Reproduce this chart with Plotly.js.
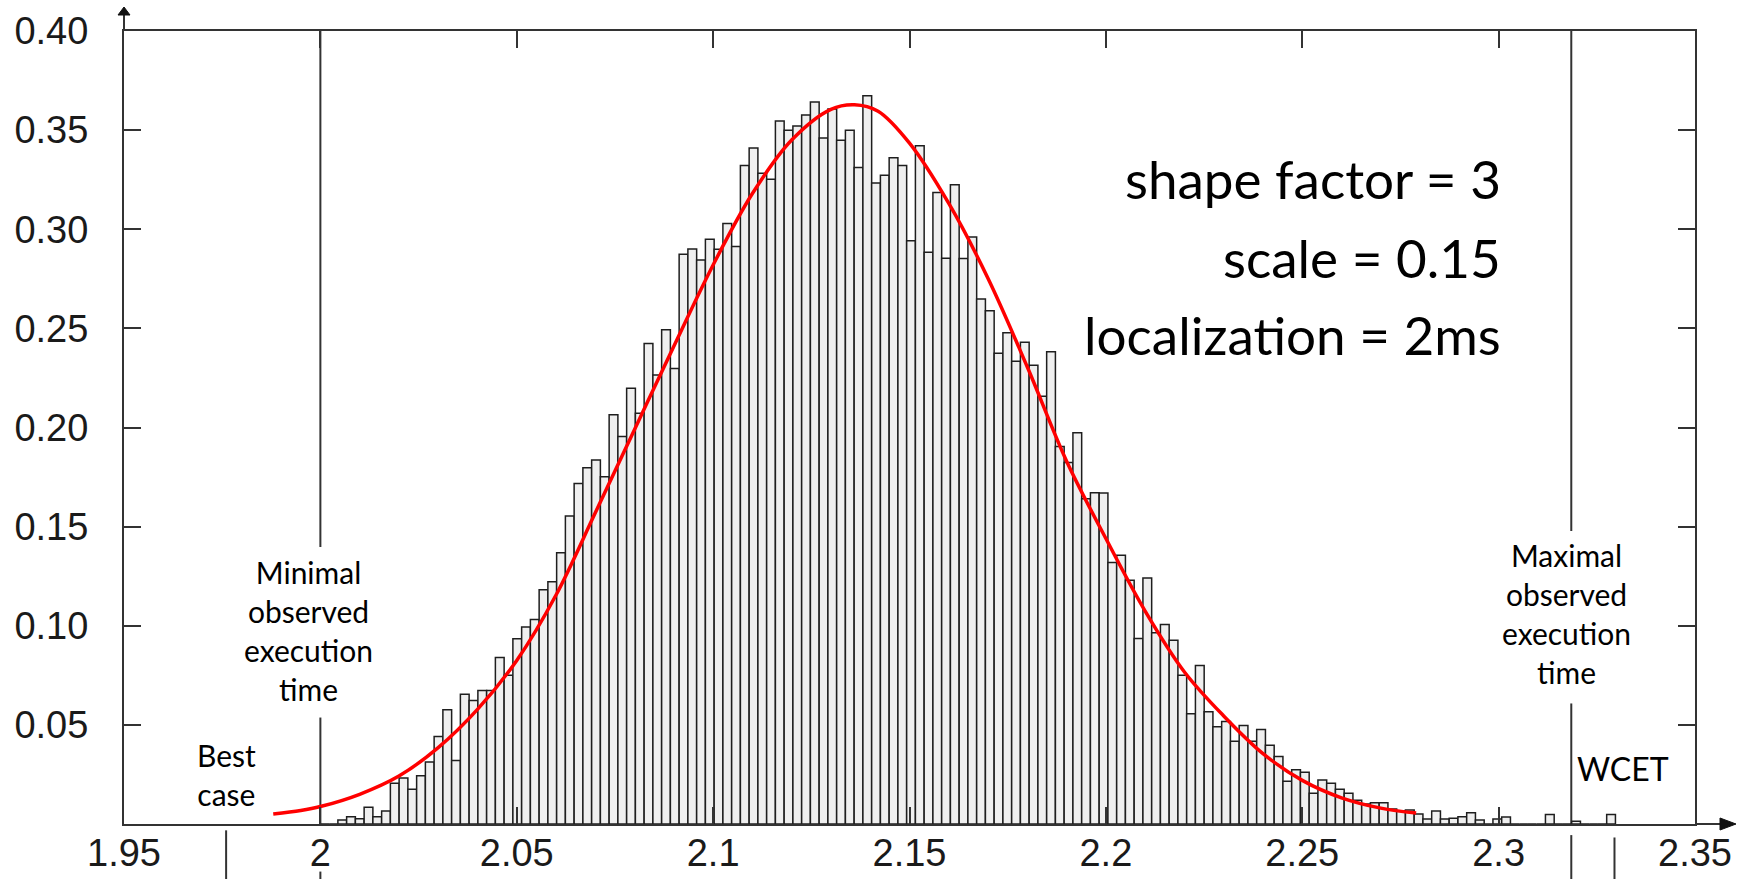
<!DOCTYPE html>
<html>
<head>
<meta charset="utf-8">
<script src="https://cdn.plot.ly/plotly-3.0.1.min.js"></script>
<style>
  html, body { margin: 0; padding: 0; background: #fff; }
  #chart { width: 1748px; height: 879px; }
</style>
</head>
<body>
<div id="chart"></div>
<script>
// Execution-time histogram (bins start at 2.0 ms, equal width)
const binStart = 2.0;
const binWidth = 0.002228;
const density = [
  0, 0, 0.0020, 0.0037, 0.0027, 0.0085, 0.0037, 0.0066, 0.0206, 0.0232,
  0.0175, 0.0243, 0.0313, 0.0441, 0.0576, 0.0320, 0.0654, 0.0623, 0.0674, 0.0674,
  0.0840, 0.0750, 0.0935, 0.0994, 0.1032, 0.1181, 0.1222, 0.1368, 0.1553, 0.1718,
  0.1797, 0.1836, 0.1751, 0.2064, 0.1954, 0.2198, 0.2072, 0.2424, 0.2265, 0.2493,
  0.2297, 0.2874, 0.2900, 0.2845, 0.2950, 0.2899, 0.3029, 0.2913, 0.3322, 0.3410,
  0.3282, 0.3252, 0.3546, 0.3499, 0.3521, 0.3576, 0.3642, 0.3460, 0.3607, 0.3449,
  0.3499, 0.3311, 0.3674, 0.3233, 0.3273, 0.3361, 0.3322, 0.2942, 0.3421, 0.2884,
  0.3186, 0.2854, 0.3225, 0.2853, 0.2961, 0.2648, 0.2589, 0.2375, 0.2478, 0.2334,
  0.2430, 0.2314, 0.2158, 0.2382, 0.1904, 0.1824, 0.1974, 0.1641, 0.1671, 0.1670,
  0.1319, 0.1355, 0.1230, 0.0936, 0.1241, 0.0965, 0.1006, 0.0927, 0.0750, 0.0556,
  0.0799, 0.0566, 0.0490, 0.0517, 0.0418, 0.0497, 0.0418, 0.0477, 0.0397, 0.0341,
  0.0216, 0.0274, 0.0261, 0.0155, 0.0222, 0.0206, 0.0175, 0.0155, 0.0120, 0.0101,
  0.0107, 0.0107, 0.0076, 0.0067, 0.0071, 0.0050, 0.0025, 0.0065, 0.0025, 0.0029,
  0.0037, 0.0057, 0.0020, 0, 0.0025, 0.0035, 0, 0, 0, 0,
  0.0048, 0, 0, 0.0014, 0, 0, 0, 0.0048
];

// Fitted distribution curve
const fitX = [1.988, 1.995, 2.000, 2.010, 2.020, 2.030, 2.040, 2.050, 2.060, 2.070,
              2.080, 2.090, 2.100, 2.110, 2.120, 2.130, 2.136, 2.142, 2.150, 2.160,
              2.170, 2.180, 2.190, 2.200, 2.210, 2.220, 2.230, 2.240, 2.250, 2.260,
              2.270, 2.279];
const fitY = [0.0050, 0.0068, 0.0088, 0.0150, 0.0242, 0.0385, 0.0578, 0.0825, 0.1155, 0.1570,
              0.1990, 0.2410, 0.2820, 0.3180, 0.3450, 0.3605, 0.3628, 0.3595, 0.3434, 0.3130,
              0.2752, 0.2305, 0.1830, 0.1440, 0.1074, 0.0767, 0.0545, 0.0355, 0.0220, 0.0132,
              0.0080, 0.0055];

// Axis ticks
const xTickVals = [1.95, 2, 2.05, 2.1, 2.15, 2.2, 2.25, 2.3, 2.35];
const xTickText = ['1.95', '2', '2.05', '2.1', '2.15', '2.2', '2.25', '2.3', '2.35'];
const yTickVals = [0.05, 0.10, 0.15, 0.20, 0.25, 0.30, 0.35, 0.40];
const yTickText = ['0.05', '0.10', '0.15', '0.20', '0.25', '0.30', '0.35', '0.40'];

// Reference times (ms)
const bestCase = 1.976;
const minObserved = 2.0;
const maxObserved = 2.3185;
const wcet = 2.3295;

const paramLines = ['shape factor = 3', 'scale = 0.15', 'localization = 2ms'];

const xRange = [1.95, 2.35];
const yRange = [0, 0.40];
const toPaperX = v => (v - xRange[0]) / (xRange[1] - xRange[0]);

const binCenters = density.map((_, k) => binStart + (k + 0.5) * binWidth);

const ink = '#333333';
const labelFont = { family: 'Lato, "Open Sans", sans-serif', size: 30, color: '#000' };

const traces = [
  {
    type: 'bar',
    x: binCenters,
    y: density,
    width: binWidth,
    marker: { color: '#efefef', line: { color: '#1e1e1e', width: 1.5 } },
    hoverinfo: 'x+y'
  },
  {
    type: 'scatter',
    mode: 'lines',
    x: fitX,
    y: fitY,
    line: { color: '#ff0000', width: 3.5, shape: 'spline', smoothing: 1 },
    hoverinfo: 'skip'
  }
];

const vLine = (x, y0, y1) => ({
  type: 'line', xref: 'x', yref: 'y', x0: x, x1: x, y0: y0, y1: y1,
  line: { color: ink, width: 2 }, layer: 'below'
});
const belowTick = (x, y0, y1) => ({
  type: 'line', xref: 'paper', yref: 'paper',
  x0: toPaperX(x), x1: toPaperX(x), y0: y0, y1: y1,
  line: { color: ink, width: 2 }
});

const shapes = [
  vLine(minObserved, 0.1397, 0.40),
  vLine(minObserved, 0, 0.0537),
  vLine(maxObserved, 0.1478, 0.40),
  vLine(maxObserved, 0, 0.0608),
  belowTick(bestCase, -0.008, -0.075),
  belowTick(maxObserved, -0.014, -0.075),
  belowTick(wcet, -0.017, -0.075),
  belowTick(minObserved, -0.060, -0.075),
  // y-axis arrow
  { type: 'path', xref: 'paper', yref: 'paper', xsizemode: 'pixel', ysizemode: 'pixel',
    xanchor: 0, yanchor: 1, path: 'M0,0 L0,18', line: { color: ink, width: 2 } },
  { type: 'path', xref: 'paper', yref: 'paper', xsizemode: 'pixel', ysizemode: 'pixel',
    xanchor: 0, yanchor: 1, path: 'M-6,16 L6,16 L0,24 Z', fillcolor: '#111', line: { color: '#111', width: 1 } },
  // x-axis arrow
  { type: 'path', xref: 'paper', yref: 'paper', xsizemode: 'pixel', ysizemode: 'pixel',
    xanchor: 1, yanchor: 0, path: 'M0,0 L28,0', line: { color: ink, width: 2 } },
  { type: 'path', xref: 'paper', yref: 'paper', xsizemode: 'pixel', ysizemode: 'pixel',
    xanchor: 1, yanchor: 0, path: 'M25,6 L41,0 L25,-6 Z', fillcolor: '#111', line: { color: '#111', width: 1 } }
];

const annotations = [
  { text: 'Minimal<br>observed<br>execution<br>time', x: 1.9969, y: 0.0978,
    xref: 'x', yref: 'y', xanchor: 'center', yanchor: 'middle', align: 'center',
    showarrow: false, font: labelFont },
  { text: 'Best<br>case', x: bestCase, y: 0.0252,
    xref: 'x', yref: 'y', xanchor: 'center', yanchor: 'middle', align: 'center',
    showarrow: false, font: labelFont },
  { text: 'Maximal<br>observed<br>execution<br>time', x: 2.3174, y: 0.1062,
    xref: 'x', yref: 'y', xanchor: 'center', yanchor: 'middle', align: 'center',
    showarrow: false, font: labelFont },
  { text: 'WCET', x: 2.3317, y: 0.0282,
    xref: 'x', yref: 'y', xanchor: 'center', yanchor: 'middle',
    showarrow: false, font: Object.assign({}, labelFont, { size: 32 }) }
];
const paramY = [0.3258, 0.2859, 0.2471];
paramLines.forEach((t, i) => annotations.push({
  text: t, x: 2.3012, y: paramY[i], xref: 'x', yref: 'y',
  xanchor: 'right', yanchor: 'middle', align: 'right', showarrow: false,
  font: { family: 'Lato, "Open Sans", sans-serif', size: 53, color: '#000' }
}));

const tickFont = { family: '"Liberation Sans", Arial, sans-serif', size: 38, color: '#1a1a1a' };

const layout = {
  width: 1748,
  height: 879,
  margin: { l: 124, r: 53, t: 31, b: 55, pad: 0 },
  paper_bgcolor: '#ffffff',
  plot_bgcolor: '#ffffff',
  showlegend: false,
  bargap: 0,
  xaxis: {
    range: xRange, tickmode: 'array', tickvals: xTickVals, ticktext: xTickText,
    ticks: 'inside', ticklen: 17, tickwidth: 2, tickcolor: ink,
    showline: true, linewidth: 2, linecolor: ink, mirror: 'ticks',
    showgrid: false, zeroline: false, tickfont: tickFont, ticklabelstandoff: -6,
    fixedrange: true
  },
  yaxis: {
    range: yRange, tickmode: 'array', tickvals: yTickVals, ticktext: yTickText,
    ticks: 'inside', ticklen: 17, tickwidth: 2, tickcolor: ink,
    showline: true, linewidth: 2, linecolor: ink, mirror: 'ticks',
    showgrid: false, zeroline: false, tickfont: tickFont, ticklabelstandoff: 26,
    fixedrange: true
  },
  shapes: shapes,
  annotations: annotations
};

Plotly.newPlot('chart', traces, layout, { displayModeBar: false, staticPlot: true });
</script>
</body>
</html>
